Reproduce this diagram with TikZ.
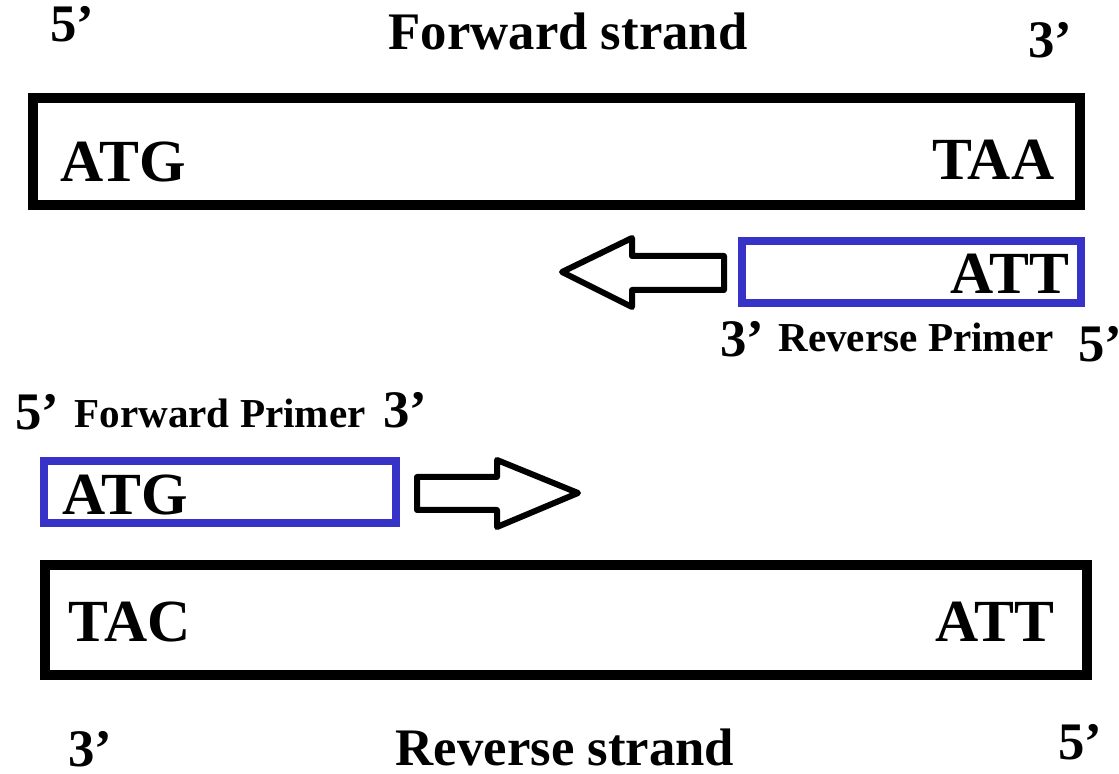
\documentclass[tikz,border=0pt]{standalone}
\usepackage{fontspec}
\setmainfont{Liberation Serif}
\definecolor{primerblue}{RGB}{55,50,200}
\tikzset{
	strand/.style={draw=black, line width=0.1cm, inner sep=0pt, minimum height=1.07cm},
	primer/.style={draw=primerblue, line width=0.08cm, inner sep=0pt, minimum height=0.62cm},
	seq/.style={font=\bfseries\fontsize{17}{20}\selectfont, inner sep=0pt},
	endlabel/.style={font=\bfseries\fontsize{15}{18}\selectfont, inner sep=0pt, anchor=base},
	title/.style={font=\bfseries\fontsize{15}{18}\selectfont, inner sep=0pt, anchor=base},
	primername/.style={font=\bfseries\fontsize{11.7}{14}\selectfont, inner sep=0pt, anchor=base},
	blockarrow/.style={draw=black, line width=0.06cm, line join=round, fill=white}
}
\begin{document}
\begin{tikzpicture}[x=0.01cm,y=-0.01cm]
	\useasboundingbox (0,0) rectangle (1119,774);
	
	% forward strand
	\node[title] (fwdtitle) at (568,50) {Forward strand};
	\node[endlabel] (fwdfive) at (72,42) {5’};
	\node[endlabel] (fwdthree) at (1050,58) {3’};
	\node[strand, minimum width=10.47cm] (fwd) at (556.5,151.5) {};
	\node[seq, anchor=base west] (fwdstart) at (60,182) {ATG};
	\node[seq, anchor=base east] (fwdstop) at (1055,180) {TAA};
	
	% reverse primer
	\node[primer, minimum width=3.39cm] (rprimer) at (911.5,272) {};
	\node[seq, anchor=base east] (rpseq) at (1070,294) {ATT};
	\node[endlabel] (rpthree) at (742,357) {3’};
	\node[primername] (rpname) at (916,352) {Reverse Primer};
	\node[endlabel] (rpfive) at (1100,362) {5’};
	\draw[blockarrow] (724,256) -- (632,256) -- (632,238) -- (562,272) -- (632,307) -- (632,290) -- (724,290) -- cycle;
	
	% forward primer
	\node[endlabel] (fpfive) at (37,430) {5’};
	\node[primername] (fpname) at (220,428) {Forward Primer};
	\node[endlabel] (fpthree) at (405,428) {3’};
	\node[primer, minimum width=3.52cm] (fprimer) at (220,492) {};
	\node[seq, anchor=base west] (fpseq) at (62,515) {ATG};
	\draw[blockarrow] (417,477) -- (497,477) -- (497,460) -- (578,493) -- (497,527) -- (497,510) -- (417,510) -- cycle;
	
	% reverse strand
	\node[strand, minimum width=10.42cm, minimum height=1.10cm] (rev) at (566,620) {};
	\node[seq, anchor=base west] (revstart) at (68,642) {TAC};
	\node[seq, anchor=base east] (revstop) at (1055,642) {ATT};
	\node[endlabel] (revthree) at (90,766) {3’};
	\node[title] (revtitle) at (565,765) {Reverse strand};
	\node[endlabel] (revfive) at (1080,760) {5’};
\end{tikzpicture}
\end{document}
